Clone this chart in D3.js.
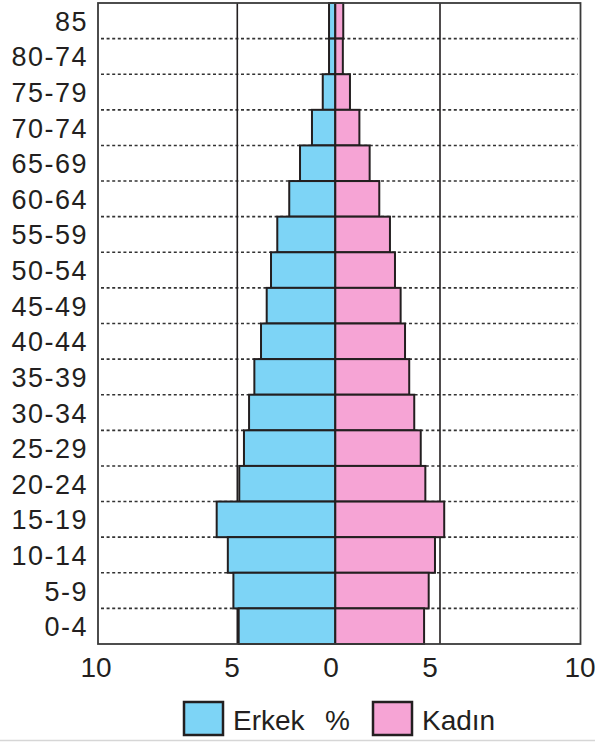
<!DOCTYPE html>
<html>
<head>
<meta charset="utf-8">
<script src="https://cdn.jsdelivr.net/npm/d3@7"></script>
<style>
  html, body { margin: 0; padding: 0; background: #fff; }
  text { font-family: "Liberation Sans", Arial, sans-serif; fill: #231f20; }
</style>
</head>
<body>
<div id="chart"></div>
<script>
// age groups, top to bottom
var ageGroups = ["85", "80-74", "75-79", "70-74", "65-69", "60-64", "55-59", "50-54", "45-49",
    "40-44", "35-39", "30-34", "25-29", "20-24", "15-19", "10-14", "5-9", "0-4"];

// percent of population (read against the printed axis)
var erkek = [0.32, 0.32, 0.64, 1.19, 1.80, 2.35, 2.96, 3.28, 3.50,
    3.79, 4.13, 4.40, 4.66, 4.90, 5.74, 5.34, 5.14, 4.93];
var kadin = [0.38, 0.36, 0.70, 1.15, 1.64, 2.10, 2.61, 2.85, 3.12,
    3.33, 3.53, 3.77, 4.08, 4.30, 5.15, 4.76, 4.46, 4.24];

var tickValues = [-10, -5, 0, 5, 10];
var gridValues = [-5, 5];

var legendItems = ["Erkek", "Kadın"];

(function () {
    var width = 595,
        height = 744,
        blue = "#7dd4f6",
        pink = "#f6a4d5",
        ink = "#231f20";

    // the printed frame is not symmetric, so the scale is piecewise
    var x = d3.scaleLinear()
        .domain(tickValues)
        .range([98, 237.3, 335.3, 440, 580.5]);
    // tick labels sit a little left of their lines in the original
    var xLabel = d3.scaleLinear()
        .domain(tickValues)
        .range([96, 232, 331, 430, 580]);
    var y = d3.scaleBand()
        .domain(ageGroups)
        .range([3, 644])
        .padding(0);

    var svg = d3.select("#chart").append("svg")
        .attr("width", width)
        .attr("height", height);

    // dotted separators between the groups
    svg.append("g")
        .selectAll("line")
        .data(ageGroups.slice(1))
        .enter().append("line")
        .attr("x1", x(-10) + 3)
        .attr("x2", x(10) - 3)
        .attr("y1", function (d) { return y(d); })
        .attr("y2", function (d) { return y(d); })
        .attr("stroke", "#333")
        .attr("stroke-width", 1.6)
        .attr("stroke-dasharray", "3,2.6");

    // vertical lines at 5
    svg.append("g")
        .selectAll("line")
        .data(gridValues)
        .enter().append("line")
        .attr("x1", function (d) { return x(d); })
        .attr("x2", function (d) { return x(d); })
        .attr("y1", y.range()[0])
        .attr("y2", y.range()[1])
        .attr("stroke", ink)
        .attr("stroke-width", 1.6);

    var bars = svg.append("g");

    bars.selectAll("rect.erkek")
        .data(erkek)
        .enter().append("rect")
        .attr("class", "erkek")
        .attr("x", function (d) { return x(-d); })
        .attr("y", function (d, i) { return y(ageGroups[i]); })
        .attr("width", function (d) { return x(0) - x(-d); })
        .attr("height", y.bandwidth())
        .attr("fill", blue)
        .attr("stroke", ink)
        .attr("stroke-width", 2);

    bars.selectAll("rect.kadin")
        .data(kadin)
        .enter().append("rect")
        .attr("class", "kadin")
        .attr("x", x(0))
        .attr("y", function (d, i) { return y(ageGroups[i]); })
        .attr("width", function (d) { return x(d) - x(0); })
        .attr("height", y.bandwidth())
        .attr("fill", pink)
        .attr("stroke", ink)
        .attr("stroke-width", 2);

    // frame
    svg.append("rect")
        .attr("x", x(-10))
        .attr("y", y.range()[0])
        .attr("width", x(10) - x(-10))
        .attr("height", y.range()[1] - y.range()[0])
        .attr("fill", "none")
        .attr("stroke", "#3a3a3a")
        .attr("stroke-width", 1.8);

    // age labels
    svg.append("g")
        .selectAll("text")
        .data(ageGroups)
        .enter().append("text")
        .attr("x", 88)
        .attr("y", function (d) { return y(d) + y.bandwidth() / 2 + 10; })
        .attr("text-anchor", "end")
        .style("font-size", "27px")
        .style("letter-spacing", "1.5px")
        .text(function (d) { return d; });

    // x tick labels
    svg.append("g")
        .selectAll("text")
        .data(tickValues)
        .enter().append("text")
        .attr("x", function (d) { return xLabel(d); })
        .attr("y", 677)
        .attr("text-anchor", "middle")
        .style("font-size", "28px")
        .text(function (d) { return Math.abs(d); });

    // legend
    var legendColors = [blue, pink],
        legendX = [184, 373];
    var legend = svg.append("g")
        .selectAll("g")
        .data(legendItems)
        .enter().append("g")
        .attr("transform", function (d, i) { return "translate(" + legendX[i] + ",702)"; });

    legend.append("rect")
        .attr("width", 39)
        .attr("height", 33)
        .attr("fill", function (d, i) { return legendColors[i]; })
        .attr("stroke", ink)
        .attr("stroke-width", 2.5);

    legend.append("text")
        .attr("x", 49)
        .attr("y", 28)
        .style("font-size", "28px")
        .text(function (d) { return d; });

    svg.append("text")
        .attr("x", 325)
        .attr("y", 730)
        .style("font-size", "28px")
        .text("%");

    // thin grey edge at the bottom of the scan
    svg.append("line")
        .attr("x1", 0)
        .attr("x2", width)
        .attr("y1", 740.5)
        .attr("y2", 740.5)
        .attr("stroke", "#d6d6d6")
        .attr("stroke-width", 1.5);
})();
</script>
</body>
</html>
